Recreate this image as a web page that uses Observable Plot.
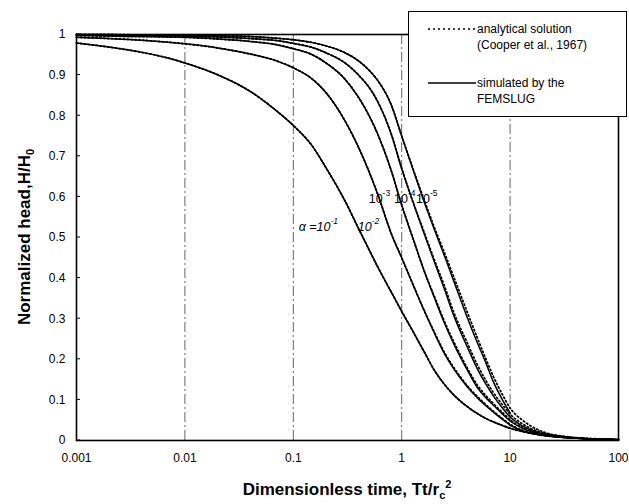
<!DOCTYPE html>
<html>
<head>
<meta charset="utf-8">
<script src="https://cdn.jsdelivr.net/npm/d3@7"></script>
<script src="https://cdn.jsdelivr.net/npm/@observablehq/plot@0.6"></script>
<style>
  body { margin: 0; background: #fff; }
  #wrap { position: relative; width: 629px; height: 504px; font-family: Arial, "Liberation Sans", sans-serif; }
  #legend { position: absolute; left: 408px; top: 11px; width: 217px; height: 104px; border: 1.5px solid #000; background: #fff; }
</style>
</head>
<body>
<div id="wrap"></div>
<script>
// Dimensionless time grid (Tt/rc^2)
const beta = [0.001,0.002,0.004,0.007,0.01,0.02,0.04,0.07,0.1,0.15,0.2,0.3,0.4,0.5,0.6,0.8,1,1.3,1.6,2,2.5,3,4,5,6,7,8.5,10,13,17,22,30,40,55,75,100];

// alpha values
const alphas = ["1e-1","1e-2","1e-3","1e-4","1e-5"];

// Simulated by FEMSLUG (solid lines), H/H0
const simA1 = [.979,.969,.956,.942,.930,.901,.860,.812,.776,.725,.672,.59,.522,.47,.428,.366,.318,.264,.220,.173,.137,.113,.084,.066,.054,.046,.037,.030,.022,.016,.012,.008,.006,.004,.003,.002];
const simA2 = [.993,.990,.986,.981,.977,.967,.952,.935,.918,.890,.857,.787,.722,.662,.607,.51,.45,.378,.322,.265,.212,.178,.133,.105,.085,.070,.052,.038,.024,.016,.011,.008,.006,.004,.003,.002];
const simA3 = [.998,.996,.995,.994,.993,.989,.983,.975,.965,.950,.93,.89,.845,.80,.755,.665,.58,.49,.42,.352,.287,.24,.175,.13,.105,.087,.065,.048,.030,.019,.013,.008,.006,.004,.003,.002];
const simA4 = [.999,.999,.998,.997,.996,.994,.990,.985,.978,.968,.955,.93,.90,.87,.835,.755,.67,.58,.512,.44,.37,.31,.232,.176,.138,.11,.08,.058,.036,.022,.014,.009,.006,.004,.003,.002];
const simA5 = [1,1,.999,.999,.998,.997,.995,.991,.987,.98,.972,.955,.935,.912,.887,.827,.75,.66,.59,.52,.452,.395,.305,.24,.19,.145,.10,.068];

// Analytical solution (Cooper et al., 1967) (dotted lines), H/H0
const anaA1 = [.979,.969,.956,.942,.930,.901,.860,.812,.776,.725,.672,.59,.522,.47,.428,.366,.318,.264,.220,.173,.137,.113,.084,.066,.054,.046,.037,.030,.022,.016,.012,.008,.006,.004,.003,.002];
const anaA2 = [.993,.990,.986,.981,.977,.967,.952,.935,.918,.890,.857,.787,.722,.662,.607,.51,.45,.378,.322,.267,.215,.181,.136,.108,.088,.072,.054,.040,.025,.016,.011,.008,.006,.004,.003,.002];
const anaA3 = [.998,.996,.995,.994,.993,.989,.983,.975,.965,.950,.93,.89,.845,.80,.755,.665,.58,.49,.42,.355,.291,.245,.180,.136,.110,.091,.069,.051,.032,.020,.013,.008,.006,.004,.003,.002];
const anaA4 = [.999,.999,.998,.997,.996,.994,.990,.985,.978,.968,.955,.93,.90,.87,.835,.755,.67,.58,.515,.445,.378,.318,.242,.186,.147,.118,.088,.065,.041,.025,.016,.010,.007,.004,.003,.002];
const anaA5 = [1,1,.999,.999,.998,.997,.995,.991,.987,.98,.972,.955,.935,.912,.887,.827,.75,.662,.595,.525,.46,.405,.318,.252,.2,.158,.113,.08,.05,.03,.018,.011,.007,.005,.003,.002];

// Axis ticks
const xTicks = [0.001, 0.01, 0.1, 1, 10, 100];
const xTickLabels = ["0.001", "0.01", "0.1", "1", "10", "100"];
const xGrid = [0.01, 0.1, 1, 10];
const yTicks = [0,0.1,0.2,0.3,0.4,0.5,0.6,0.7,0.8,0.9,1];
const yTickLabels = ["0","0.1","0.2","0.3","0.4","0.5","0.6","0.7","0.8","0.9","1"];

// Curve labels
const labelBase = ["\u03B1 =10", "10", "10", "10", "10"];
const labelExp = ["-1", "-2", "-3", "-4", "-5"];
const labelBeta = [0.172, 0.50, 0.63, 1.08, 1.72];
const labelH = [0.525, 0.525, 0.595, 0.595, 0.595];
const labelItalic = [true, true, false, false, false];

// Legend text
const legendAnalytical = ["analytical solution", "(Cooper et al., 1967)"];
const legendSimulated = ["simulated by the", "FEMSLUG"];

const toRows = (arrs) => arrs.flatMap((arr, k) => arr.map((h, i) => ({beta: beta[i], h, alpha: alphas[k]})));
const simRows = toRows([simA1, simA2, simA3, simA4, simA5]);
const anaRows = toRows([anaA1, anaA2, anaA3, anaA4, anaA5]);

const font = "Arial, 'Liberation Sans', sans-serif";
const lookup = (ticks, labels) => (d) => {
  const k = ticks.findIndex(t => Math.abs(t - d) <= Math.abs(t) * 1e-6 + 1e-12);
  return k >= 0 ? labels[k] : "";
};

const plot = Plot.plot({
  width: 629,
  height: 504,
  marginLeft: 76,
  marginRight: 11,
  marginTop: 34,
  marginBottom: 64,
  style: {fontFamily: font, fontSize: "12px", background: "#fff", color: "#000"},
  x: {type: "log", domain: [0.001, 100], axis: null},
  y: {domain: [0, 1], axis: null},
  marks: [
    Plot.ruleX(xGrid, {stroke: "#555", strokeWidth: 0.9, strokeDasharray: "10,3,2,3"}),
    Plot.line(anaRows, {x: "beta", y: "h", z: "alpha", stroke: "#000", strokeWidth: 1.8, strokeDasharray: "1.3,2.6", curve: "monotone-x"}),
    Plot.line(simRows, {x: "beta", y: "h", z: "alpha", stroke: "#000", strokeWidth: 1.5, curve: "monotone-x"}),
    Plot.frame({stroke: "#000", strokeWidth: 1.6}),
    Plot.text(xTicks, {x: d => d, frameAnchor: "bottom", dy: 21, text: lookup(xTicks, xTickLabels), fontSize: 12, fill: "#000"}),
    Plot.text(yTicks, {y: d => d, frameAnchor: "left", dx: -11, textAnchor: "end", text: lookup(yTicks, yTickLabels), fontSize: 12, fill: "#000"})
  ]
});

document.getElementById("wrap").appendChild(plot);

const xs = plot.scale("x"), ys = plot.scale("y");
const svg = d3.select(plot);

// inward y ticks
svg.append("g").selectAll("line").data(yTicks).join("line")
  .attr("x1", xs.apply(0.001)).attr("x2", xs.apply(0.001) + 4)
  .attr("y1", d => ys.apply(d)).attr("y2", d => ys.apply(d))
  .attr("stroke", "#000").attr("stroke-width", 1);

// curve labels
const lg = svg.append("g").attr("font-family", font).attr("font-size", 12.5).attr("fill", "#000");
labelBase.forEach((t, i) => {
  const txt = lg.append("text")
    .attr("x", xs.apply(labelBeta[i]))
    .attr("y", ys.apply(labelH[i]))
    .attr("dy", "0.35em")
    .attr("font-style", labelItalic[i] ? "italic" : "normal");
  txt.append("tspan").text(t);
  txt.append("tspan").attr("font-size", 8.5).attr("dy", "-0.85em").text(labelExp[i]);
});

// axis titles
const yt = svg.append("text")
  .attr("transform", `translate(24,${(ys.apply(0) + ys.apply(1)) / 2}) rotate(-90)`)
  .attr("text-anchor", "middle").attr("dy", "0.35em")
  .attr("font-family", font).attr("font-weight", "bold").attr("font-size", 17);
yt.append("tspan").text("Normalized head,H/H");
yt.append("tspan").attr("font-size", 11).attr("dy", "0.35em").text("0");

const xt = svg.append("text")
  .attr("x", (xs.apply(0.001) + xs.apply(100)) / 2).attr("y", 489)
  .attr("text-anchor", "middle").attr("dy", "0.35em")
  .attr("font-family", font).attr("font-weight", "bold").attr("font-size", 17);
xt.append("tspan").text("Dimensionless time, Tt/r");
xt.append("tspan").attr("font-size", 11).attr("dy", "0.35em").text("c");
xt.append("tspan").attr("font-size", 11).attr("dy", "-0.95em").text("2");

// legend box
const leg = d3.select("#wrap").append("div").attr("id", "legend");
const lsvg = leg.append("svg").attr("width", 217).attr("height", 104)
  .attr("font-family", font).attr("font-size", 12);
lsvg.append("line").attr("x1", 19).attr("x2", 67).attr("y1", 17).attr("y2", 17)
  .attr("stroke", "#000").attr("stroke-width", 1.3).attr("stroke-dasharray", "2,3");
lsvg.append("line").attr("x1", 19).attr("x2", 67).attr("y1", 71).attr("y2", 71)
  .attr("stroke", "#000").attr("stroke-width", 1.3);
legendAnalytical.forEach((t, i) => lsvg.append("text").attr("x", 68).attr("y", 17 + i * 16).attr("dy", "0.35em").text(t));
legendSimulated.forEach((t, i) => lsvg.append("text").attr("x", 68).attr("y", 71 + i * 16).attr("dy", "0.35em").text(t));
</script>
</body>
</html>
